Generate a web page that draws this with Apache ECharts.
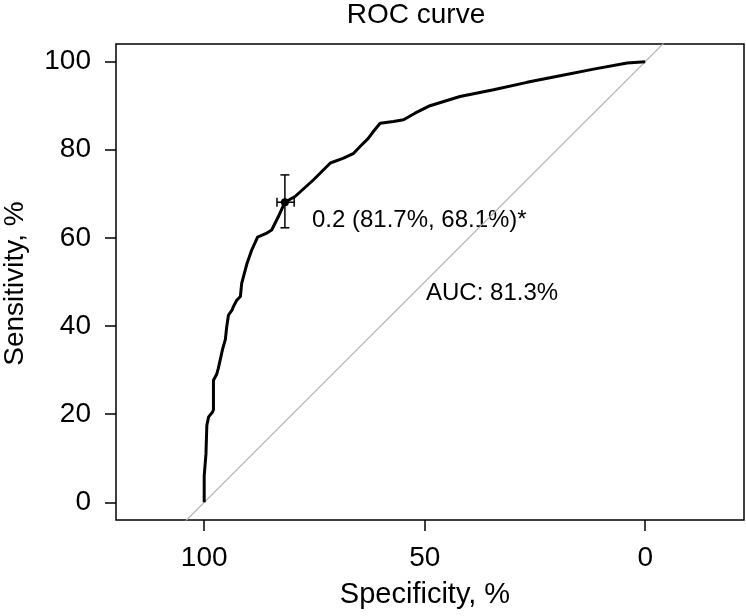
<!DOCTYPE html>
<html>
<head>
<meta charset="utf-8">
<script src="https://cdn.jsdelivr.net/npm/echarts@6/dist/echarts.min.js"></script>
<style>
html,body{margin:0;padding:0;background:#fff;}
#chart{width:746px;height:616px;}
</style>
</head>
<body>
<div id="chart"></div>
<script>
// ROC curve points (specificity %, sensitivity %)
const specificity = [100, 100, 99.6, 99.6, 99.4, 99.4, 99.0, 98.1, 97.9, 97.9, 97.2, 96.8, 95.8, 95.2, 94.9, 94.5, 93.7, 93.4, 92.6, 91.8, 91.5, 90.3, 89.2, 87.9, 85.8, 84.7, 83.2, 81.7, 79.4, 75.2, 71.4, 68.4, 66.1, 64.6, 62.8, 61.6, 60.1, 57.1, 54.8, 52.2, 48.8, 42.0, 34.4, 26.8, 19.3, 11.7, 4.1, 0];
const sensitivity = [0, 6, 6, 11, 11, 17.5, 19.4, 20.5, 21, 27.7, 29, 30.4, 34.9, 37, 39.8, 42.5, 43.6, 44.4, 45.9, 46.7, 49.7, 54.2, 57.3, 60.2, 61.1, 61.8, 64.8, 68.1, 69.4, 73.2, 77, 78.1, 79.2, 80.8, 82.6, 84.2, 86.0, 86.4, 86.8, 88.3, 90, 92.1, 93.6, 95.3, 96.8, 98.3, 99.7, 100];
// Best threshold and its confidence intervals
const thresholdPoint = [81.7, 68.1];
const specCI = [79.6, 83.5];
const sensCI = [62.3, 74.3];
const thresholdLabel = '0.2 (81.7%, 68.1%)*';
// Chance diagonal (spec + sens = 100), drawn past the frame and clipped
const diagonalSpec = [130, -30];
const diagonalSens = [-30, 130];
// AUC annotation
const aucPoint = [49.7, 47.4];
const aucLabel = 'AUC: 81.3%';
// Ticks
const xTicks = [0, 50, 100];
const yTicks = [0, 20, 40, 60, 80, 100];

const FONT = '"Liberation Sans", Arial, Helvetica, sans-serif';

const chart = echarts.init(document.getElementById('chart'), null, {renderer: 'canvas'});

const rocData = specificity.map((s, i) => [s, sensitivity[i]]);
const diagData = diagonalSpec.map((s, i) => [s, diagonalSens[i]]);

const axisCommon = {
  type: 'value',
  axisLine: {show: false, onZero: false},
  splitLine: {show: false},
  axisTick: {show: true, inside: false, length: 11, lineStyle: {color: '#000', width: 1.5}},
  axisLabel: {color: '#000', fontSize: 28, fontFamily: FONT}
};

chart.setOption({
  animation: false,
  backgroundColor: '#fff',
  grid: {left: 116, right: 2, top: 44, bottom: 96, show: true, borderColor: '#000', borderWidth: 1.5, backgroundColor: 'transparent'},
  xAxis: Object.assign({}, axisCommon, {
    inverse: true, min: -22.4, max: 120,
    axisTick: Object.assign({}, axisCommon.axisTick, {customValues: xTicks}),
    axisLabel: Object.assign({}, axisCommon.axisLabel, {customValues: xTicks, margin: 24})
  }),
  yAxis: Object.assign({}, axisCommon, {
    min: -4, max: 104,
    axisTick: Object.assign({}, axisCommon.axisTick, {customValues: yTicks}),
    axisLabel: Object.assign({}, axisCommon.axisLabel, {customValues: yTicks, margin: 25})
  }),
  graphic: [
    {type: 'text', x: 416, y: 15, style: {text: 'ROC curve', font: '28px ' + FONT, fill: '#000', align: 'center', verticalAlign: 'middle'}},
    {type: 'text', x: 425, y: 595, style: {text: 'Specificity, %', font: '29px ' + FONT, fill: '#000', align: 'center', verticalAlign: 'middle'}},
    {type: 'text', x: 15, y: 283.5, rotation: Math.PI / 2, style: {text: 'Sensitivity, %', font: '28px ' + FONT, fill: '#000', align: 'center', verticalAlign: 'middle'}}
  ],
  series: [
    {
      type: 'line', data: diagData, clip: true, symbol: 'none', silent: true,
      lineStyle: {color: '#b3b3b3', width: 1.2}
    },
    {
      type: 'line', data: rocData, symbol: 'none', silent: true,
      lineStyle: {color: '#000', width: 3, join: 'round'}
    },
    {
      type: 'custom', silent: true,
      data: [[thresholdPoint[0], thresholdPoint[1], specCI[0], specCI[1], sensCI[0], sensCI[1]]],
      renderItem: function (params, api) {
        const v1 = api.coord([api.value(0), api.value(4)]);
        const v2 = api.coord([api.value(0), api.value(5)]);
        const h1 = api.coord([api.value(2), api.value(1)]);
        const h2 = api.coord([api.value(3), api.value(1)]);
        const st = {stroke: '#000', lineWidth: 1.5};
        const cw = 4.5;
        return {type: 'group', children: [
          {type: 'line', shape: {x1: v1[0], y1: v1[1], x2: v2[0], y2: v2[1]}, style: st},
          {type: 'line', shape: {x1: v1[0] - cw, y1: v1[1], x2: v1[0] + cw, y2: v1[1]}, style: st},
          {type: 'line', shape: {x1: v2[0] - cw, y1: v2[1], x2: v2[0] + cw, y2: v2[1]}, style: st},
          {type: 'line', shape: {x1: h1[0], y1: h1[1], x2: h2[0], y2: h2[1]}, style: st},
          {type: 'line', shape: {x1: h1[0], y1: h1[1] - cw, x2: h1[0], y2: h1[1] + cw}, style: st},
          {type: 'line', shape: {x1: h2[0], y1: h2[1] - cw, x2: h2[0], y2: h2[1] + cw}, style: st}
        ]};
      }
    },
    {
      type: 'scatter', data: [thresholdPoint], symbol: 'circle', symbolSize: 8, silent: true,
      itemStyle: {color: '#000', opacity: 1},
      label: {show: true, position: 'right', distance: 23, offset: [0, 18], formatter: thresholdLabel, opacity: 1,
        color: '#000', fontSize: 24, fontFamily: FONT, align: 'left', verticalAlign: 'middle'}
    },
    {
      type: 'scatter', data: [aucPoint], symbolSize: 0, silent: true,
      itemStyle: {color: '#000', opacity: 1},
      label: {show: true, position: 'right', distance: 0, formatter: aucLabel, opacity: 1,
        color: '#000', fontSize: 24, fontFamily: FONT, align: 'left', verticalAlign: 'middle'}
    }
  ]
});
</script>
</body>
</html>
